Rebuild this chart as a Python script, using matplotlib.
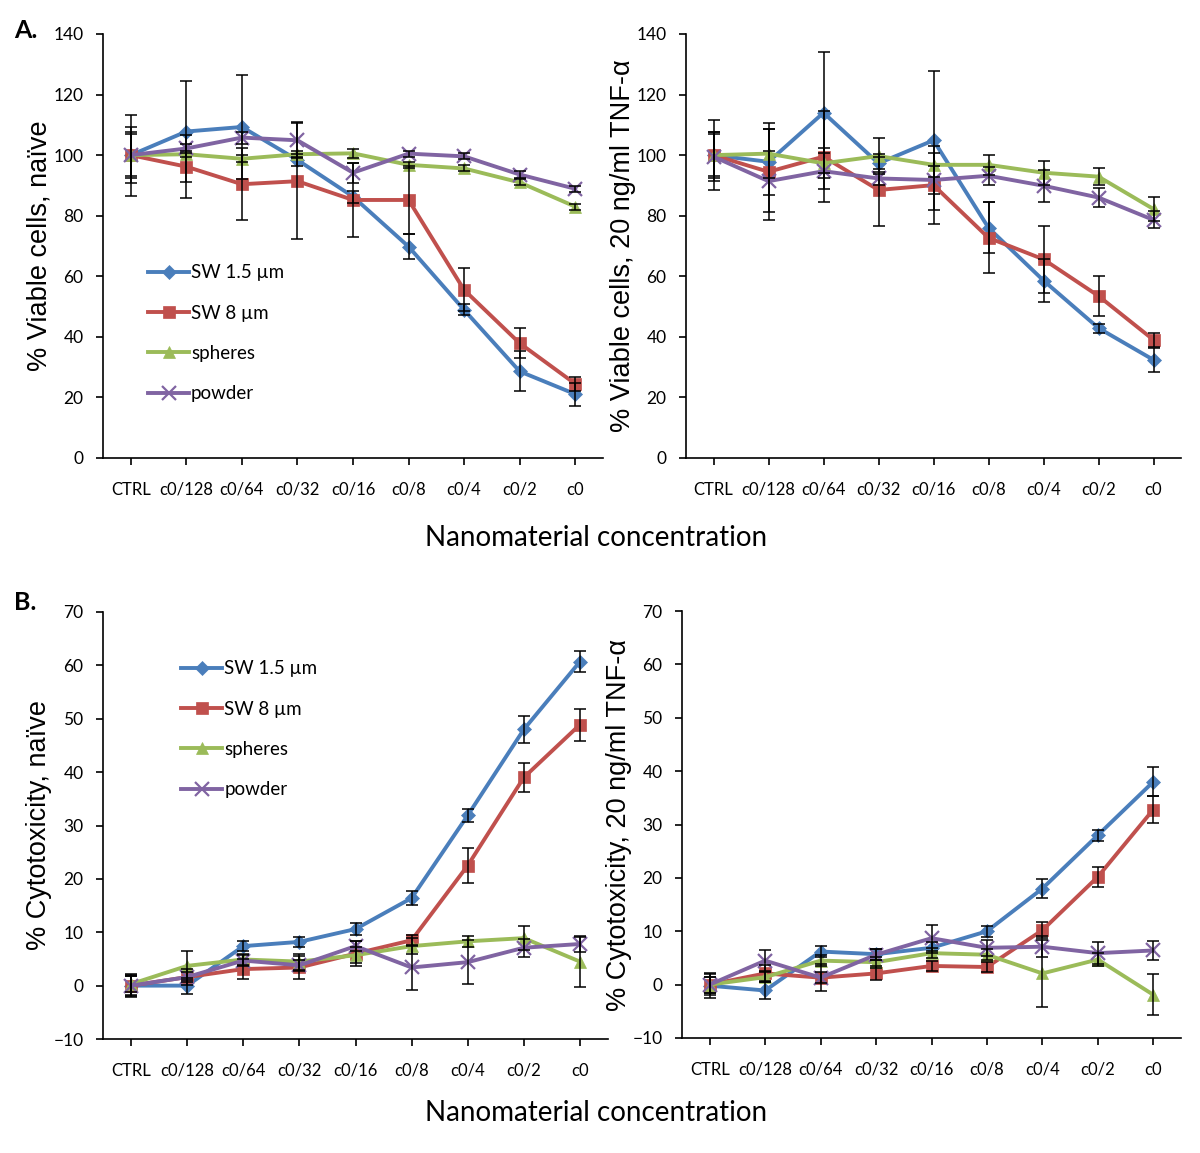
import matplotlib
matplotlib.use("Agg")
import matplotlib.pyplot as plt

# categories on the x axis
conc = ["CTRL", "c0/128", "c0/64", "c0/32", "c0/16", "c0/8", "c0/4", "c0/2", "c0"]
series_names = ["SW 1.5 \u00b5m", "SW 8 \u00b5m", "spheres", "powder"]

# A. viability, naive
via_naive_sw15 = [100, 107.8, 109.3, 98.4, 86.3, 69.8, 48.9, 28.6, 21.1]
via_naive_sw8 = [100, 96.2, 90.4, 91.4, 85.2, 85.2, 55.5, 37.9, 24.5]
via_naive_sph = [100, 100.3, 98.8, 100.3, 100.6, 96.8, 95.6, 91.0, 83.0]
via_naive_pow = [100, 102.2, 105.8, 104.9, 94.2, 100.5, 99.6, 93.6, 88.9]
via_naive_sw15_err = [7.5, 16.7, 17.3, 2.0, 2.0, 4.2, 1.8, 6.6, 3.8]
via_naive_sw8_err = [13.4, 10.3, 11.8, 19.2, 12.3, 11.2, 7.1, 5.0, 2.4]
via_naive_sph_err = [7.0, 1.0, 1.2, 1.0, 1.4, 1.0, 1.0, 1.0, 1.0]
via_naive_pow_err = [9.3, 1.5, 2.0, 6.0, 3.3, 1.0, 1.0, 1.0, 1.0]

# A. viability, TNF-alpha
via_tnf_sw15 = [100, 97.8, 114.0, 97.3, 104.9, 76.0, 58.6, 42.9, 32.4]
via_tnf_sw8 = [100, 94.5, 99.5, 88.5, 90.1, 72.7, 65.6, 53.5, 39.0]
via_tnf_sph = [100, 100.5, 97.3, 99.7, 96.8, 96.8, 94.2, 92.9, 82.2]
via_tnf_pow = [99.5, 91.4, 94.7, 92.3, 91.8, 93.2, 89.9, 86.0, 78.6]
via_tnf_sw15_err = [11.5, 10.8, 20.0, 2.0, 23.0, 8.4, 7.2, 1.5, 4.0]
via_tnf_sw8_err = [7.5, 16.0, 15.0, 12.0, 12.8, 11.7, 11.0, 6.6, 2.2]
via_tnf_sph_err = [7.0, 8.0, 5.0, 6.0, 4.0, 3.3, 4.0, 2.7, 4.0]
via_tnf_pow_err = [8.0, 10.1, 6.0, 2.0, 4.5, 3.0, 5.3, 3.0, 2.8]

# B. cytotoxicity, naive
cyt_naive_sw15 = [0, 0, 7.4, 8.2, 10.6, 16.4, 31.9, 48.0, 60.7]
cyt_naive_sw8 = [0, 1.6, 3.1, 3.4, 6.0, 8.5, 22.5, 39.0, 48.9]
cyt_naive_sph = [0.3, 3.7, 4.9, 4.5, 5.7, 7.4, 8.3, 8.9, 4.5]
cyt_naive_pow = [0, 1.6, 4.7, 3.8, 7.4, 3.4, 4.4, 7.1, 7.8]
cyt_naive_sw15_err = [1.8, 1.5, 1.0, 1.0, 1.2, 1.3, 1.2, 2.6, 2.0]
cyt_naive_sw8_err = [2.2, 1.5, 1.9, 2.2, 2.4, 1.0, 3.2, 2.8, 3.0]
cyt_naive_sph_err = [1.5, 2.7, 1.0, 1.5, 1.5, 1.5, 1.0, 2.2, 4.7]
cyt_naive_pow_err = [2.0, 1.0, 1.0, 1.0, 1.0, 4.3, 4.1, 1.7, 1.5]

# B. cytotoxicity, TNF-alpha
cyt_tnf_sw15 = [-0.2, -1.1, 6.2, 5.7, 6.9, 10.0, 18.0, 28.0, 38.0]
cyt_tnf_sw8 = [0, 2.1, 1.3, 2.1, 3.5, 3.3, 10.2, 20.2, 32.8]
cyt_tnf_sph = [0, 1.4, 4.5, 4.2, 5.9, 5.6, 2.1, 4.7, -1.9]
cyt_tnf_pow = [0, 4.5, 1.3, 5.6, 8.7, 6.9, 7.1, 5.9, 6.4]
cyt_tnf_sw15_err = [2.3, 1.5, 1.0, 1.0, 1.0, 1.0, 1.7, 1.0, 2.7]
cyt_tnf_sw8_err = [1.5, 1.5, 2.5, 1.3, 1.0, 1.0, 1.5, 1.9, 2.6]
cyt_tnf_sph_err = [1.5, 1.0, 1.0, 1.0, 1.0, 1.0, 6.2, 1.3, 3.8]
cyt_tnf_pow_err = [2.0, 1.9, 1.0, 1.0, 2.4, 1.5, 2.0, 2.0, 1.7]

colors = ["#4A7EBB", "#C0504D", "#9BBB59", "#8064A2"]
markers = ["D", "s", "^", "x"]
msizes = [7.5, 8.5, 9, 9.5]

plt.rcParams["font.family"] = ["Lato", "DejaVu Sans"]

W, H = 1200, 1153
fig = plt.figure(figsize=(W / 100, H / 100), dpi=100)


def px_axes(left, right, top, bottom):
    return fig.add_axes([left / W, 1 - bottom / H, (right - left) / W, (bottom - top) / H])


def draw(ax, vals, errs, ylim, yticks, ylabel, legend_anchor=None):
    x = list(range(len(conc)))
    for i in range(4):
        ax.plot(x, vals[i], color=colors[i], lw=2.8, marker=markers[i], ms=msizes[i],
                mew=1.6 if markers[i] == "x" else 0.5, mec=colors[i], label=series_names[i],
                zorder=2 + i * 0.1)
    for i in range(4):
        ax.errorbar(x, vals[i], yerr=errs[i], fmt="none", ecolor="black", elinewidth=1.1,
                    capsize=4, capthick=1.1, zorder=4)
    ax.set_xlim(-0.5, 8.5)
    ax.set_ylim(*ylim)
    ax.set_yticks(yticks)
    ax.set_xticks(x)
    ax.set_xticklabels(conc)
    for s in ["top", "right"]:
        ax.spines[s].set_visible(False)
    ax.spines["left"].set_linewidth(1.2)
    ax.spines["bottom"].set_linewidth(1.2)
    ax.tick_params(axis="y", direction="out", length=5, width=1.2, pad=9, labelsize=12.5)
    ax.tick_params(axis="x", direction="out", length=5, width=1.2, pad=12, labelsize=12)
    ax.set_ylabel(ylabel, fontsize=19.5, family=["Liberation Sans", "DejaVu Sans"])
    ax.yaxis.set_label_coords(-0.10, 0.5)
    if legend_anchor is not None:
        ax.legend(loc="upper left", bbox_to_anchor=legend_anchor, frameon=False,
                  fontsize=13.5, handlelength=2.2, handletextpad=0.1, labelspacing=1.25,
                  borderaxespad=0)


axA1 = px_axes(103, 603, 34, 458)
axA2 = px_axes(686, 1181, 34, 458)
axB1 = px_axes(103, 608, 612, 1039)
axB2 = px_axes(682, 1181, 611, 1038)

draw(axA1, [via_naive_sw15, via_naive_sw8, via_naive_sph, via_naive_pow],
     [via_naive_sw15_err, via_naive_sw8_err, via_naive_sph_err, via_naive_pow_err],
     (0, 140), range(0, 141, 20), "% Viable cells, na\u00efve", legend_anchor=(0.075, 0.475))
draw(axA2, [via_tnf_sw15, via_tnf_sw8, via_tnf_sph, via_tnf_pow],
     [via_tnf_sw15_err, via_tnf_sw8_err, via_tnf_sph_err, via_tnf_pow_err],
     (0, 140), range(0, 141, 20), "% Viable cells, 20 ng/ml TNF-\u03b1")
draw(axB1, [cyt_naive_sw15, cyt_naive_sw8, cyt_naive_sph, cyt_naive_pow],
     [cyt_naive_sw15_err, cyt_naive_sw8_err, cyt_naive_sph_err, cyt_naive_pow_err],
     (-10, 70), range(-10, 71, 10), "% Cytotoxicity, na\u00efve", legend_anchor=(0.14, 0.905))
draw(axB2, [cyt_tnf_sw15, cyt_tnf_sw8, cyt_tnf_sph, cyt_tnf_pow],
     [cyt_tnf_sw15_err, cyt_tnf_sw8_err, cyt_tnf_sph_err, cyt_tnf_pow_err],
     (-10, 70), range(-10, 71, 10), "% Cytotoxicity, 20 ng/ml TNF-\u03b1")

fig.text(596 / W, 1 - 538 / H, "Nanomaterial concentration", ha="center", va="center", fontsize=20)
fig.text(596 / W, 1 - 1113 / H, "Nanomaterial concentration", ha="center", va="center", fontsize=20)
fig.text(14 / W, 1 - 30 / H, "A.", ha="left", va="center", fontsize=18, fontweight="bold")
fig.text(14 / W, 1 - 602 / H, "B.", ha="left", va="center", fontsize=18, fontweight="bold")

fig.savefig("out.png", dpi=100)
